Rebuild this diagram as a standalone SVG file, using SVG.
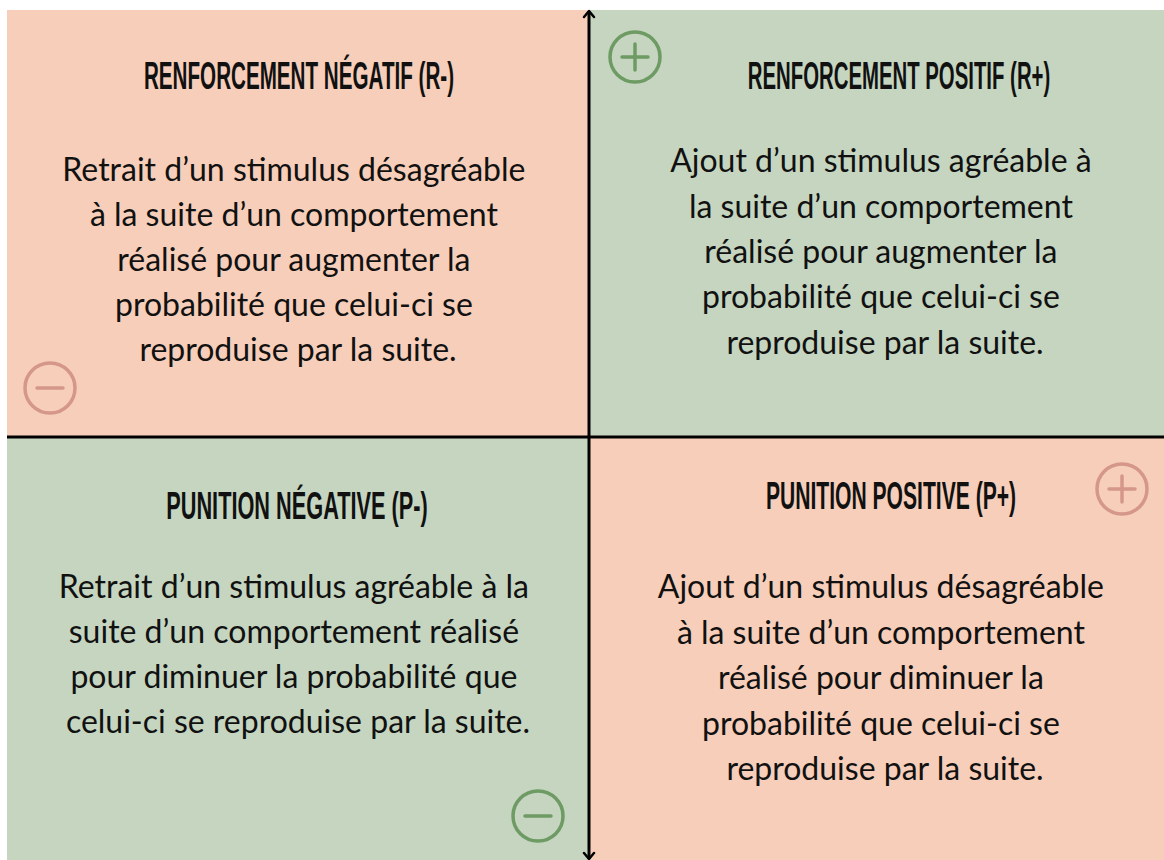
<svg xmlns="http://www.w3.org/2000/svg" width="1164" height="860" viewBox="0 0 1164 860">
  <style>
    .peach { fill: #F6CEB9; }
    .green { fill: #C5D5C0; }
    .title { font-family: "Liberation Sans", Arial, sans-serif; font-weight: 700; font-size: 38px; fill: #111; text-anchor: middle; }
    .body { font-family: Lato, "Open Sans", sans-serif; font-size: 32px; fill: #111; text-anchor: middle; }
    .ic-g { fill: none; stroke: #6E9A63; stroke-width: 3.5; stroke-linecap: round; }
    .ic-p { fill: none; stroke: #D4978A; stroke-width: 3.5; stroke-linecap: round; }
    .axis { stroke: #000; stroke-width: 3; fill: none; }
    .head { stroke: #000; stroke-width: 2.5; fill: none; stroke-linecap: round; stroke-linejoin: round; }
  </style>
  <rect width="1164" height="860" fill="#FFFFFF"/>

  <g id="renforcement-negatif">
    <rect class="peach" x="7" y="10" width="582" height="427"/>
    <text class="title" transform="translate(299 89) scale(0.543 1)">RENFORCEMENT NÉGATIF (R-)</text>
    <text class="body">
      <tspan x="298" y="181">Retrait d’un stimulus désagréable</tspan>
      <tspan x="298" y="226">à la suite d’un comportement</tspan>
      <tspan x="298" y="271">réalisé pour augmenter la</tspan>
      <tspan x="298" y="316">probabilité que celui-ci se</tspan>
      <tspan x="298" y="361">reproduise par la suite.</tspan>
    </text>
    <circle class="ic-p" cx="50" cy="388" r="25"/>
    <line class="ic-p" x1="37" y1="388" x2="63" y2="388" stroke-width="4.5"/>
  </g>

  <g id="renforcement-positif">
    <rect class="green" x="589" y="10" width="575" height="427"/>
    <text class="title" transform="translate(899 89) scale(0.536 1)">RENFORCEMENT POSITIF (R+)</text>
    <text class="body">
      <tspan x="885" y="172">Ajout d’un stimulus agréable à</tspan>
      <tspan x="885" y="218">la suite d’un comportement</tspan>
      <tspan x="885" y="263">réalisé pour augmenter la</tspan>
      <tspan x="885" y="308">probabilité que celui-ci se</tspan>
      <tspan x="885" y="354">reproduise par la suite.</tspan>
    </text>
    <circle class="ic-g" cx="635" cy="57" r="25"/>
    <line class="ic-g" x1="622" y1="57" x2="648" y2="57"/>
    <line class="ic-g" x1="635" y1="44" x2="635" y2="70"/>
  </g>

  <g id="punition-negative">
    <rect class="green" x="7" y="437" width="582" height="423"/>
    <text class="title" transform="translate(297 519) scale(0.572 1)">PUNITION NÉGATIVE (P-)</text>
    <text class="body">
      <tspan x="298" y="598">Retrait d’un stimulus agréable à la</tspan>
      <tspan x="298" y="643">suite d’un comportement réalisé</tspan>
      <tspan x="298" y="688">pour diminuer la probabilité que</tspan>
      <tspan x="298" y="733">celui-ci se reproduise par la suite.</tspan>
    </text>
    <circle class="ic-g" cx="538" cy="816" r="25"/>
    <line class="ic-g" x1="525" y1="816" x2="551" y2="816" stroke-width="4.5"/>
  </g>

  <g id="punition-positive">
    <rect class="peach" x="589" y="437" width="575" height="423"/>
    <text class="title" transform="translate(891 509) scale(0.555 1)">PUNITION POSITIVE (P+)</text>
    <text class="body">
      <tspan x="885" y="598">Ajout d’un stimulus désagréable</tspan>
      <tspan x="885" y="644">à la suite d’un comportement</tspan>
      <tspan x="885" y="689">réalisé pour diminuer la</tspan>
      <tspan x="885" y="735">probabilité que celui-ci se</tspan>
      <tspan x="885" y="780">reproduise par la suite.</tspan>
    </text>
    <circle class="ic-p" cx="1122" cy="489" r="25"/>
    <line class="ic-p" x1="1109" y1="489" x2="1135" y2="489"/>
    <line class="ic-p" x1="1122" y1="476" x2="1122" y2="502"/>
  </g>

  <g id="connectors">
    <line class="axis" x1="7" y1="437" x2="1164" y2="437" stroke-width="3.5"/>
    <line class="axis" x1="589" y1="11" x2="589" y2="859"/>
    <polyline class="head" points="584,17 589,11 594,17"/>
    <polyline class="head" points="584,853 589,859 594,853"/>
  </g>
</svg>
